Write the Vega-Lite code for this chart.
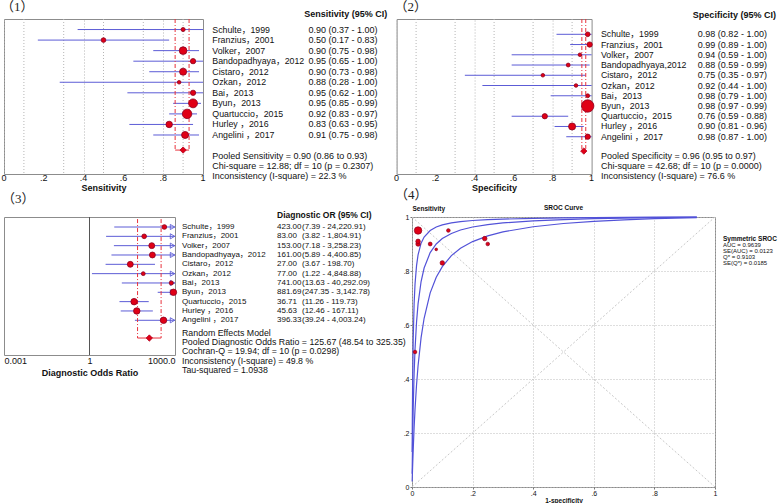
{
  "$schema": "https://vega.github.io/schema/vega-lite/v6.json",
  "padding": 0,
  "background": "white",
  "bounds": "flush",
  "spacing": 198,
  "config": {
    "font": "Liberation Sans",
    "view": {"stroke": "#8c8c8c", "strokeWidth": 1},
    "text": {"font": "Liberation Sans, Noto Sans CJK SC", "fontSize": 9, "color": "#111"},
    "title": {"font": "Liberation Serif, Noto Sans CJK SC", "fontSize": 13, "fontWeight": "normal", "anchor": "start", "frame": "group", "color": "#222"},
    "axis": {"labelColor": "#111", "titleColor": "#111", "labelFont": "Liberation Sans", "titleFont": "Liberation Sans"}
  },
  "datasets": {
    "d1": [
      {"i": 1, "name": "Schulte，1999", "est": 0.90, "lo": 0.37, "hi": 1.00, "w": 17, "ci": "0.90 (0.37 - 1.00)"},
      {"i": 2, "name": "Franzius，2001", "est": 0.50, "lo": 0.17, "hi": 0.83, "w": 22, "ci": "0.50 (0.17 - 0.83)"},
      {"i": 3, "name": "Volker，2007", "est": 0.90, "lo": 0.75, "hi": 0.98, "w": 59, "ci": "0.90 (0.75 - 0.98)"},
      {"i": 4, "name": "Bandopadhyaya，2012", "est": 0.95, "lo": 0.65, "hi": 1.00, "w": 28, "ci": "0.95 (0.65 - 1.00)"},
      {"i": 5, "name": "Cistaro，2012", "est": 0.90, "lo": 0.73, "hi": 0.98, "w": 50, "ci": "0.90 (0.73 - 0.98)"},
      {"i": 6, "name": "Ozkan，2012", "est": 0.88, "lo": 0.28, "hi": 1.00, "w": 13, "ci": "0.88 (0.28 - 1.00)"},
      {"i": 7, "name": "Bai，2013", "est": 0.95, "lo": 0.62, "hi": 1.00, "w": 28, "ci": "0.95 (0.62 - 1.00)"},
      {"i": 8, "name": "Byun，2013", "est": 0.95, "lo": 0.85, "hi": 0.99, "w": 79, "ci": "0.95 (0.85 - 0.99)"},
      {"i": 9, "name": "Quartuccio，2015", "est": 0.92, "lo": 0.83, "hi": 0.97, "w": 90, "ci": "0.92 (0.83 - 0.97)"},
      {"i": 10, "name": "Hurley ，2016", "est": 0.83, "lo": 0.63, "hi": 0.95, "w": 42, "ci": "0.83 (0.63 - 0.95)"},
      {"i": 11, "name": "Angelini ，2017", "est": 0.91, "lo": 0.75, "hi": 0.98, "w": 50, "ci": "0.91 (0.75 - 0.98)"}
    ],
    "d2": [
      {"i": 1, "name": "Schulte，1999", "est": 0.98, "lo": 0.82, "hi": 1.00, "w": 22, "ci": "0.98 (0.82 - 1.00)"},
      {"i": 2, "name": "Franzius，2001", "est": 0.99, "lo": 0.89, "hi": 1.00, "w": 28, "ci": "0.99 (0.89 - 1.00)"},
      {"i": 3, "name": "Volker，2007", "est": 0.94, "lo": 0.59, "hi": 1.00, "w": 13, "ci": "0.94 (0.59 - 1.00)"},
      {"i": 4, "name": "Bandopadhyaya,2012", "est": 0.88, "lo": 0.59, "hi": 0.99, "w": 15, "ci": "0.88 (0.59 - 0.99)"},
      {"i": 5, "name": "Cistaro，2012", "est": 0.75, "lo": 0.35, "hi": 0.97, "w": 13, "ci": "0.75 (0.35 - 0.97)"},
      {"i": 6, "name": "Ozkan，2012", "est": 0.92, "lo": 0.44, "hi": 1.00, "w": 13, "ci": "0.92 (0.44 - 1.00)"},
      {"i": 7, "name": "Bai，2013", "est": 0.98, "lo": 0.79, "hi": 1.00, "w": 15, "ci": "0.98 (0.79 - 1.00)"},
      {"i": 8, "name": "Byun，2013", "est": 0.98, "lo": 0.97, "hi": 0.99, "w": 154, "ci": "0.98 (0.97 - 0.99)"},
      {"i": 9, "name": "Quartuccio，2015", "est": 0.76, "lo": 0.59, "hi": 0.88, "w": 28, "ci": "0.76 (0.59 - 0.88)"},
      {"i": 10, "name": "Hurley ，2016", "est": 0.90, "lo": 0.81, "hi": 0.96, "w": 50, "ci": "0.90 (0.81 - 0.96)"},
      {"i": 11, "name": "Angelini ，2017", "est": 0.98, "lo": 0.87, "hi": 1.00, "w": 28, "ci": "0.98 (0.87 - 1.00)"}
    ],
    "d3": [
      {"i": 1, "name": "Schulte，1999", "est": 423.00, "lo": 7.39, "hi": 24220.91, "w": 22, "ort": "423.00", "ci": "(7.39 - 24,220.91)"},
      {"i": 2, "name": "Franzius，2001", "est": 83.00, "lo": 3.82, "hi": 1804.91, "w": 22, "ort": "83.00", "ci": "(3.82 - 1,804.91)"},
      {"i": 3, "name": "Volker，2007", "est": 153.00, "lo": 7.18, "hi": 3258.23, "w": 35, "ort": "153.00", "ci": "(7.18 - 3,258.23)"},
      {"i": 4, "name": "Bandopadhyaya，2012", "est": 161.00, "lo": 5.89, "hi": 4400.85, "w": 35, "ort": "161.00", "ci": "(5.89 - 4,400.85)"},
      {"i": 5, "name": "Cistaro，2012", "est": 27.00, "lo": 3.67, "hi": 198.70, "w": 35, "ort": "27.00", "ci": "(3.67 - 198.70)"},
      {"i": 6, "name": "Ozkan，2012", "est": 77.00, "lo": 1.22, "hi": 4848.88, "w": 15, "ort": "77.00", "ci": "(1.22 - 4,848.88)"},
      {"i": 7, "name": "Bai，2013", "est": 741.00, "lo": 13.63, "hi": 40292.09, "w": 17, "ort": "741.00", "ci": "(13.63 - 40,292.09)"},
      {"i": 8, "name": "Byun，2013", "est": 881.69, "lo": 247.35, "hi": 3142.78, "w": 42, "ort": "881.69", "ci": "(247.35 - 3,142.78)"},
      {"i": 9, "name": "Quartuccio，2015", "est": 36.71, "lo": 11.26, "hi": 119.73, "w": 42, "ort": "36.71", "ci": "(11.26 - 119.73)"},
      {"i": 10, "name": "Hurley ，2016", "est": 45.63, "lo": 12.46, "hi": 167.11, "w": 42, "ort": "45.63", "ci": "(12.46 - 167.11)"},
      {"i": 11, "name": "Angelini ，2017", "est": 396.33, "lo": 39.24, "hi": 4003.24, "w": 42, "ort": "396.33", "ci": "(39.24 - 4,003.24)"}
    ],
    "d4": [
      {"name": "Schulte", "fpr": 0.02, "sens": 0.90, "w": 20},
      {"name": "Franzius", "fpr": 0.01, "sens": 0.50, "w": 13},
      {"name": "Volker", "fpr": 0.06, "sens": 0.90, "w": 15},
      {"name": "Bandopadhyaya", "fpr": 0.12, "sens": 0.95, "w": 13},
      {"name": "Cistaro", "fpr": 0.25, "sens": 0.90, "w": 13},
      {"name": "Ozkan", "fpr": 0.08, "sens": 0.88, "w": 7},
      {"name": "Bai", "fpr": 0.02, "sens": 0.95, "w": 13},
      {"name": "Byun", "fpr": 0.02, "sens": 0.95, "w": 56},
      {"name": "Quartuccio", "fpr": 0.24, "sens": 0.92, "w": 20},
      {"name": "Hurley", "fpr": 0.10, "sens": 0.83, "w": 20},
      {"name": "Angelini", "fpr": 0.02, "sens": 0.91, "w": 20}
    ],
    "pool1": [{"est": 0.90, "lo": 0.86, "hi": 0.93}],
    "pool2": [{"est": 0.96, "lo": 0.95, "hi": 0.97}],
    "pool3": [{"est": 125.67, "lo": 48.54, "hi": 325.35}],
    "oddgrid": [{"g": 0.1}, {"g": 0.3}, {"g": 0.5}, {"g": 0.7}, {"g": 0.9}],
    "xlab": [{"v": 0, "t": "0"}, {"v": 0.2, "t": ".2"}, {"v": 0.4, "t": ".4"}, {"v": 0.6, "t": ".6"}, {"v": 0.8, "t": ".8"}, {"v": 1, "t": "1"}],
    "diag": [
      {"d": "a", "x": 0, "y": 0}, {"d": "a", "x": 1, "y": 1},
      {"d": "b", "x": 0, "y": 1}, {"d": "b", "x": 1, "y": 0}
    ],
    "curves": [
      {"c": "upper", "x": 0.0005, "y": 0.130}, {"c": "upper", "x": 0.001, "y": 0.231}, {"c": "upper", "x": 0.002, "y": 0.376}, {"c": "upper", "x": 0.004, "y": 0.546}, {"c": "upper", "x": 0.007, "y": 0.679}, {"c": "upper", "x": 0.01, "y": 0.752}, {"c": "upper", "x": 0.015, "y": 0.820}, {"c": "upper", "x": 0.02, "y": 0.860}, {"c": "upper", "x": 0.03, "y": 0.903}, {"c": "upper", "x": 0.04, "y": 0.926}, {"c": "upper", "x": 0.06, "y": 0.950}, {"c": "upper", "x": 0.08, "y": 0.963}, {"c": "upper", "x": 0.1, "y": 0.971}, {"c": "upper", "x": 0.13, "y": 0.978}, {"c": "upper", "x": 0.16, "y": 0.983}, {"c": "upper", "x": 0.2, "y": 0.987}, {"c": "upper", "x": 0.25, "y": 0.990}, {"c": "upper", "x": 0.3, "y": 0.992}, {"c": "upper", "x": 0.4, "y": 0.995}, {"c": "upper", "x": 0.5, "y": 0.997}, {"c": "upper", "x": 0.6, "y": 0.998}, {"c": "upper", "x": 0.7, "y": 0.9986}, {"c": "upper", "x": 0.8, "y": 0.9992}, {"c": "upper", "x": 0.94, "y": 0.9998},
      {"c": "mid", "x": 0.0005, "y": 0.049}, {"c": "mid", "x": 0.001, "y": 0.094}, {"c": "mid", "x": 0.002, "y": 0.171}, {"c": "mid", "x": 0.004, "y": 0.293}, {"c": "mid", "x": 0.007, "y": 0.421}, {"c": "mid", "x": 0.01, "y": 0.510}, {"c": "mid", "x": 0.015, "y": 0.611}, {"c": "mid", "x": 0.02, "y": 0.678}, {"c": "mid", "x": 0.03, "y": 0.761}, {"c": "mid", "x": 0.04, "y": 0.811}, {"c": "mid", "x": 0.06, "y": 0.868}, {"c": "mid", "x": 0.08, "y": 0.900}, {"c": "mid", "x": 0.1, "y": 0.920}, {"c": "mid", "x": 0.13, "y": 0.939}, {"c": "mid", "x": 0.16, "y": 0.952}, {"c": "mid", "x": 0.2, "y": 0.963}, {"c": "mid", "x": 0.25, "y": 0.972}, {"c": "mid", "x": 0.3, "y": 0.978}, {"c": "mid", "x": 0.4, "y": 0.986}, {"c": "mid", "x": 0.5, "y": 0.990}, {"c": "mid", "x": 0.6, "y": 0.994}, {"c": "mid", "x": 0.7, "y": 0.996}, {"c": "mid", "x": 0.8, "y": 0.998}, {"c": "mid", "x": 0.94, "y": 0.9994},
      {"c": "lower", "x": 0.0005, "y": 0.020}, {"c": "lower", "x": 0.001, "y": 0.039}, {"c": "lower", "x": 0.002, "y": 0.074}, {"c": "lower", "x": 0.004, "y": 0.138}, {"c": "lower", "x": 0.007, "y": 0.220}, {"c": "lower", "x": 0.01, "y": 0.288}, {"c": "lower", "x": 0.015, "y": 0.379}, {"c": "lower", "x": 0.02, "y": 0.449}, {"c": "lower", "x": 0.03, "y": 0.553}, {"c": "lower", "x": 0.04, "y": 0.625}, {"c": "lower", "x": 0.06, "y": 0.719}, {"c": "lower", "x": 0.08, "y": 0.777}, {"c": "lower", "x": 0.1, "y": 0.816}, {"c": "lower", "x": 0.13, "y": 0.857}, {"c": "lower", "x": 0.16, "y": 0.884}, {"c": "lower", "x": 0.2, "y": 0.909}, {"c": "lower", "x": 0.25, "y": 0.930}, {"c": "lower", "x": 0.3, "y": 0.945}, {"c": "lower", "x": 0.4, "y": 0.964}, {"c": "lower", "x": 0.5, "y": 0.976}, {"c": "lower", "x": 0.6, "y": 0.984}, {"c": "lower", "x": 0.7, "y": 0.989}, {"c": "lower", "x": 0.8, "y": 0.994}, {"c": "lower", "x": 0.94, "y": 0.998}
    ]
  },
  "vconcat": [
    {
      "bounds": "flush",
      "spacing": 9.3,
      "hconcat": [
        {
          "width": 199, "height": 155,
          "title": {"text": "（1）", "dx": -3, "offset": 5},
          "layer": [
            {"data": {"name": "oddgrid"}, "mark": {"type": "rule", "color": "#b5b5b5", "strokeDash": [1, 2]},
             "encoding": {
               "x": {"field": "g", "type": "quantitative", "scale": {"domain": [0, 1], "nice": false, "zero": false},
                     "axis": {"values": [0, 0.2, 0.4, 0.6, 0.8, 1], "labels": false, "grid": true, "gridDash": [1, 2], "gridColor": "#b5b5b5", "ticks": false, "domain": false, "title": "Sensitivity", "titleFontSize": 9, "titleFontWeight": "bold", "titlePadding": 9}}
             }},
            {"data": {"name": "d1"}, "mark": {"type": "rule", "color": "#5c5cd6", "strokeWidth": 1},
             "encoding": {
               "x": {"field": "lo", "type": "quantitative"},
               "x2": {"field": "hi"},
               "y": {"field": "i", "type": "quantitative", "scale": {"domain": [0, 14.7], "reverse": true, "nice": false, "zero": false}, "axis": null}
             }},
            {"data": {"name": "pool1"}, "mark": {"type": "rule", "color": "#e8323c", "strokeDash": [4, 2, 1, 2]},
             "encoding": {"x": {"field": "lo", "type": "quantitative"}, "y": {"datum": 0, "type": "quantitative"}, "y2": {"datum": 12.43}}},
            {"data": {"name": "pool1"}, "mark": {"type": "rule", "color": "#e8323c", "strokeDash": [4, 2, 1, 2]},
             "encoding": {"x": {"field": "hi", "type": "quantitative"}, "y": {"datum": 0, "type": "quantitative"}, "y2": {"datum": 12.43}}},
            {"data": {"name": "pool1"}, "mark": {"type": "rule", "color": "#e8323c"},
             "encoding": {"x": {"field": "lo", "type": "quantitative"}, "x2": {"field": "hi"}, "y": {"datum": 12.43, "type": "quantitative"}}},
            {"data": {"name": "d1"}, "mark": {"type": "point", "shape": "circle", "filled": true, "fill": "#e00016", "stroke": "#8b0020", "strokeWidth": 0.8, "opacity": 1},
             "encoding": {"x": {"field": "est", "type": "quantitative"}, "y": {"field": "i", "type": "quantitative"},
                          "size": {"field": "w", "type": "quantitative", "scale": {"domain": [0, 100], "range": [0, 100]}, "legend": null}}},
            {"data": {"name": "pool1"}, "mark": {"type": "point", "shape": "diamond", "filled": true, "fill": "#e00016", "stroke": "#b00020", "strokeWidth": 0.8, "size": 40, "opacity": 1},
             "encoding": {"x": {"field": "est", "type": "quantitative"}, "y": {"datum": 12.43, "type": "quantitative"}}},
            {"data": {"name": "xlab"}, "mark": {"type": "text", "baseline": "top", "align": "center", "fontSize": 9},
             "encoding": {"x": {"field": "v", "type": "quantitative"}, "y": {"datum": 14.7, "type": "quantitative"}, "text": {"field": "t"}}}
          ]
        },
        {
          "width": 175, "height": 155, "view": {"stroke": null},
          "layer": [
            {"data": {"name": "d1"}, "mark": {"type": "text", "align": "left", "baseline": "middle", "fontSize": 8.8},
             "encoding": {"x": {"datum": 0, "type": "quantitative", "scale": {"domain": [0, 1], "nice": false, "zero": false}, "axis": null},
                          "y": {"field": "i", "type": "quantitative", "scale": {"domain": [0, 14.7], "reverse": true, "nice": false, "zero": false}, "axis": null},
                          "text": {"field": "name"}}},
            {"data": {"name": "d1"}, "mark": {"type": "text", "align": "left", "baseline": "middle"},
             "encoding": {"x": {"datum": 0.549, "type": "quantitative"}, "y": {"field": "i", "type": "quantitative"}, "text": {"field": "ci"}}},
            {"data": {"values": [{"h": "Sensitivity (95% CI)"}]}, "mark": {"type": "text", "align": "right", "baseline": "middle", "fontWeight": "bold"},
             "encoding": {"x": {"datum": 1, "type": "quantitative"}, "y": {"datum": -0.43, "type": "quantitative"}, "text": {"field": "h"}}},
            {"data": {"values": [{"t": ["Pooled Sensitivity = 0.90 (0.86 to 0.93)", "Chi-square = 12.88; df =  10 (p = 0.2307)", "Inconsistency (I-square) = 22.3 %"]}]},
             "mark": {"type": "text", "align": "left", "baseline": "top", "lineHeight": 10},
             "encoding": {"x": {"datum": 0, "type": "quantitative"}, "y": {"datum": 12.58, "type": "quantitative"}, "text": {"field": "t"}}}
          ]
        },
        {
          "width": 195, "height": 155,
          "title": {"text": "（2）", "dx": -2, "offset": 5},
          "layer": [
            {"data": {"name": "oddgrid"}, "mark": {"type": "rule", "color": "#b5b5b5", "strokeDash": [1, 2]},
             "encoding": {
               "x": {"field": "g", "type": "quantitative", "scale": {"domain": [0, 1], "nice": false, "zero": false},
                     "axis": {"values": [0, 0.2, 0.4, 0.6, 0.8, 1], "labels": false, "grid": true, "gridDash": [1, 2], "gridColor": "#b5b5b5", "ticks": false, "domain": false, "title": "Specificity", "titleFontSize": 9, "titleFontWeight": "bold", "titlePadding": 9}}
             }},
            {"data": {"name": "d2"}, "mark": {"type": "rule", "color": "#5c5cd6", "strokeWidth": 1},
             "encoding": {
               "x": {"field": "lo", "type": "quantitative"},
               "x2": {"field": "hi"},
               "y": {"field": "i", "type": "quantitative", "scale": {"domain": [-0.494, 14.64], "reverse": true, "nice": false, "zero": false}, "axis": null}
             }},
            {"data": {"name": "pool2"}, "mark": {"type": "rule", "color": "#e8323c", "strokeDash": [4, 2, 1, 2]},
             "encoding": {"x": {"field": "lo", "type": "quantitative"}, "y": {"datum": -0.494, "type": "quantitative"}, "y2": {"datum": 12.4}}},
            {"data": {"name": "pool2"}, "mark": {"type": "rule", "color": "#e8323c", "strokeDash": [4, 2, 1, 2]},
             "encoding": {"x": {"field": "hi", "type": "quantitative"}, "y": {"datum": -0.494, "type": "quantitative"}, "y2": {"datum": 12.4}}},
            {"data": {"name": "pool2"}, "mark": {"type": "rule", "color": "#e8323c"},
             "encoding": {"x": {"field": "lo", "type": "quantitative"}, "x2": {"field": "hi"}, "y": {"datum": 12.4, "type": "quantitative"}}},
            {"data": {"name": "d2"}, "mark": {"type": "point", "shape": "circle", "filled": true, "fill": "#e00016", "stroke": "#8b0020", "strokeWidth": 0.8, "opacity": 1},
             "encoding": {"x": {"field": "est", "type": "quantitative"}, "y": {"field": "i", "type": "quantitative"},
                          "size": {"field": "w", "type": "quantitative", "scale": {"domain": [0, 100], "range": [0, 100]}, "legend": null}}},
            {"data": {"name": "pool2"}, "mark": {"type": "point", "shape": "diamond", "filled": true, "fill": "#e00016", "stroke": "#b00020", "strokeWidth": 0.8, "size": 40, "opacity": 1},
             "encoding": {"x": {"field": "est", "type": "quantitative"}, "y": {"datum": 12.4, "type": "quantitative"}}},
            {"data": {"name": "xlab"}, "mark": {"type": "text", "baseline": "top", "align": "center", "fontSize": 9},
             "encoding": {"x": {"field": "v", "type": "quantitative"}, "y": {"datum": 14.64, "type": "quantitative"}, "text": {"field": "t"}}}
          ]
        },
        {
          "width": 175, "height": 155, "view": {"stroke": null},
          "layer": [
            {"data": {"name": "d2"}, "mark": {"type": "text", "align": "left", "baseline": "middle", "fontSize": 8.8},
             "encoding": {"x": {"datum": 0, "type": "quantitative", "scale": {"domain": [0, 1], "nice": false, "zero": false}, "axis": null},
                          "y": {"field": "i", "type": "quantitative", "scale": {"domain": [-0.494, 14.64], "reverse": true, "nice": false, "zero": false}, "axis": null},
                          "text": {"field": "name"}}},
            {"data": {"name": "d2"}, "mark": {"type": "text", "align": "left", "baseline": "middle"},
             "encoding": {"x": {"datum": 0.554, "type": "quantitative"}, "y": {"field": "i", "type": "quantitative"}, "text": {"field": "ci"}}},
            {"data": {"values": [{"h": "Specificity (95% CI)"}]}, "mark": {"type": "text", "align": "right", "baseline": "middle", "fontWeight": "bold"},
             "encoding": {"x": {"datum": 1, "type": "quantitative"}, "y": {"datum": -0.93, "type": "quantitative"}, "text": {"field": "h"}}},
            {"data": {"values": [{"t": ["Pooled Specificity = 0.96 (0.95 to 0.97)", "Chi-square = 42.68; df =  10 (p = 0.0000)", "Inconsistency (I-square) = 76.6 %"]}]},
             "mark": {"type": "text", "align": "left", "baseline": "top", "lineHeight": 10},
             "encoding": {"x": {"datum": 0, "type": "quantitative"}, "y": {"datum": 12.45, "type": "quantitative"}, "text": {"field": "t"}}}
          ]
        }
      ]
    },
    {
      "bounds": "flush",
      "spacing": 7,
      "hconcat": [
        {
          "width": 171, "height": 138,
          "title": {"text": "（3）", "dx": -2, "offset": 11},
          "layer": [
            {"data": {"name": "d3"}, "mark": {"type": "rule", "color": "#5c5cd6", "strokeWidth": 1, "clip": true},
             "encoding": {
               "x": {"field": "lo", "type": "quantitative", "scale": {"type": "log", "domain": [0.001, 1000], "nice": false},
                     "axis": {"values": [0.001, 1, 1000], "labelExpr": "datum.value >= 999 ? '1000.0' : datum.value >= 0.5 ? '1' : '0.001'", "grid": false, "ticks": false, "domain": false, "labelFontSize": 9, "labelFlush": true, "labelOverlap": false, "labelPadding": 1, "title": "Diagnostic Odds Ratio", "titleFontSize": 9, "titleFontWeight": "bold", "titlePadding": 3}},
               "x2": {"field": "hi"},
               "y": {"field": "i", "type": "quantitative", "scale": {"domain": [-0.072, 14.72], "reverse": true, "nice": false, "zero": false}, "axis": null}
             }},
            {"data": {"values": [{"v": 1}]}, "mark": {"type": "rule", "color": "#555555", "strokeWidth": 1},
             "encoding": {"x": {"field": "v", "type": "quantitative"}}},
            {"data": {"name": "d3"}, "transform": [{"filter": "datum.hi > 1000"}],
             "mark": {"type": "point", "shape": "triangle-right", "filled": false, "stroke": "#5c5cd6", "strokeWidth": 0.9, "size": 26, "xOffset": -2.5, "opacity": 1},
             "encoding": {"x": {"datum": 1000, "type": "quantitative"}, "y": {"field": "i", "type": "quantitative"}}},
            {"data": {"name": "pool3"}, "mark": {"type": "rule", "color": "#e8323c", "strokeDash": [4, 2, 1, 2]},
             "encoding": {"x": {"field": "lo", "type": "quantitative"}, "y": {"datum": 0.15, "type": "quantitative"}, "y2": {"datum": 12.9}}},
            {"data": {"name": "pool3"}, "mark": {"type": "rule", "color": "#e8323c", "strokeDash": [4, 2, 1, 2]},
             "encoding": {"x": {"field": "hi", "type": "quantitative"}, "y": {"datum": 0.15, "type": "quantitative"}, "y2": {"datum": 12.9}}},
            {"data": {"name": "pool3"}, "mark": {"type": "rule", "color": "#e8323c"},
             "encoding": {"x": {"field": "lo", "type": "quantitative"}, "x2": {"field": "hi"}, "y": {"datum": 12.9, "type": "quantitative"}}},
            {"data": {"name": "d3"}, "mark": {"type": "point", "shape": "circle", "filled": true, "fill": "#e00016", "stroke": "#8b0020", "strokeWidth": 0.8, "opacity": 1},
             "encoding": {"x": {"field": "est", "type": "quantitative"}, "y": {"field": "i", "type": "quantitative"},
                          "size": {"field": "w", "type": "quantitative", "scale": {"domain": [0, 100], "range": [0, 100]}, "legend": null}}},
            {"data": {"name": "pool3"}, "mark": {"type": "point", "shape": "diamond", "filled": true, "fill": "#e00016", "stroke": "#b00020", "strokeWidth": 0.8, "size": 40, "opacity": 1},
             "encoding": {"x": {"field": "est", "type": "quantitative"}, "y": {"datum": 12.9, "type": "quantitative"}}}
          ]
        },
        {
          "width": 223, "height": 138, "view": {"stroke": null},
          "layer": [
            {"data": {"name": "d3"}, "mark": {"type": "text", "align": "left", "baseline": "middle", "fontSize": 8},
             "encoding": {"x": {"datum": 0, "type": "quantitative", "scale": {"domain": [0, 1], "nice": false, "zero": false}, "axis": null},
                          "y": {"field": "i", "type": "quantitative", "scale": {"domain": [-0.072, 14.72], "reverse": true, "nice": false, "zero": false}, "axis": null},
                          "text": {"field": "name"}}},
            {"data": {"name": "d3"}, "mark": {"type": "text", "align": "left", "baseline": "middle", "fontSize": 8},
             "encoding": {"x": {"datum": 0.426, "type": "quantitative"}, "y": {"field": "i", "type": "quantitative"}, "text": {"field": "ort"}}},
            {"data": {"name": "d3"}, "mark": {"type": "text", "align": "left", "baseline": "middle", "fontSize": 8},
             "encoding": {"x": {"datum": 0.538, "type": "quantitative"}, "y": {"field": "i", "type": "quantitative"}, "text": {"field": "ci"}}},
            {"data": {"values": [{"h": "Diagnostic OR (95% CI)"}]}, "mark": {"type": "text", "align": "left", "baseline": "middle", "fontWeight": "bold", "fontSize": 8.5},
             "encoding": {"x": {"datum": 0.426, "type": "quantitative"}, "y": {"datum": -0.32, "type": "quantitative"}, "text": {"field": "h"}}},
            {"data": {"values": [{"t": ["Random Effects Model", "Pooled Diagnostic Odds Ratio = 125.67 (48.54 to 325.35)", "Cochran-Q = 19.94; df =  10 (p = 0.0298)", "Inconsistency (I-square) = 49.8 %", "Tau-squared = 1.0938"]}]},
             "mark": {"type": "text", "align": "left", "baseline": "top", "lineHeight": 9.33, "fontSize": 8.8},
             "encoding": {"x": {"datum": 0, "type": "quantitative"}, "y": {"datum": 11.9, "type": "quantitative"}, "text": {"field": "t"}}}
          ]
        },
        {
          "width": 303, "height": 270,
          "title": {"text": "（4）", "dx": -17, "offset": 3},
          "layer": [
            {"data": {"name": "diag"}, "mark": {"type": "line", "color": "#c8c8c8", "strokeDash": [2, 2], "strokeWidth": 1},
             "encoding": {
               "x": {"field": "x", "type": "quantitative", "scale": {"domain": [0, 1], "nice": false, "zero": false},
                     "axis": {"values": [0, 0.1, 0.2, 0.3, 0.4, 0.5, 0.6, 0.7, 0.8, 0.9, 1], "labelExpr": "datum.value == 0 ? '0' : datum.value == 1 ? '1' : (round(datum.value * 10) % 2 == 1 ? '' : replace(format(datum.value, '.1f'), '0.', '.'))", "grid": true, "gridDash": [1, 2], "gridColor": "#bdbdbd", "ticks": true, "tickSize": 2, "tickColor": "#777777", "domain": false, "labelFontSize": 7, "labelFlush": false, "labelOverlap": false, "labelPadding": 0, "title": "1-specificity", "titleFontSize": 6.5, "titleFontWeight": "bold", "titlePadding": 1}},
               "y": {"field": "y", "type": "quantitative", "scale": {"domain": [0, 1], "nice": false, "zero": false},
                     "axis": {"values": [0, 0.1, 0.2, 0.3, 0.4, 0.5, 0.6, 0.7, 0.8, 0.9, 1], "labelExpr": "datum.value == 0 ? '0' : datum.value == 1 ? '1' : replace(format(datum.value, '.1f'), '0.', '.')", "grid": true, "gridDash": [1, 2], "gridColor": "#bdbdbd", "ticks": true, "tickSize": 2, "tickColor": "#777777", "domain": false, "labelFontSize": 7, "labelOverlap": false, "labelFlush": false, "labelPadding": 1, "title": "Sensitivity", "titleFontSize": 6.5, "titleFontWeight": "bold", "titleAngle": 0, "titleAlign": "left", "titleBaseline": "middle", "titleX": 0, "titleY": -9}},
               "detail": {"field": "d"}
             }},
            {"data": {"name": "curves"}, "mark": {"type": "line", "color": "#5252d8", "strokeWidth": 1.2},
             "encoding": {"x": {"field": "x", "type": "quantitative"}, "y": {"field": "y", "type": "quantitative"}, "detail": {"field": "c"}}},
            {"data": {"name": "d4"}, "mark": {"type": "point", "shape": "circle", "filled": true, "fill": "#e00016", "stroke": "#8b0020", "strokeWidth": 0.7, "opacity": 1},
             "encoding": {"x": {"field": "fpr", "type": "quantitative"}, "y": {"field": "sens", "type": "quantitative"},
                          "size": {"field": "w", "type": "quantitative", "scale": {"domain": [0, 100], "range": [0, 100]}, "legend": null}}},
            {"data": {"values": [{"t": "SROC Curve"}]}, "mark": {"type": "text", "fontSize": 6.5, "fontWeight": "bold", "baseline": "middle", "dy": -9},
             "encoding": {"x": {"datum": 0.5, "type": "quantitative"}, "y": {"datum": 1, "type": "quantitative"}, "text": {"field": "t"}}},
            {"data": {"values": [{"t": "Symmetric SROC"}]}, "mark": {"type": "text", "fontSize": 6.5, "fontWeight": "bold", "align": "left", "baseline": "middle", "dx": 8},
             "encoding": {"x": {"datum": 1, "type": "quantitative"}, "y": {"datum": 0.919, "type": "quantitative"}, "text": {"field": "t"}}},
            {"data": {"values": [{"t": ["AUC = 0.9639", "SE(AUC) = 0.0123", "Q* = 0.9103", "SE(Q*) = 0.0185"]}]}, "mark": {"type": "text", "fontSize": 6, "align": "left", "baseline": "top", "lineHeight": 6, "dx": 8},
             "encoding": {"x": {"datum": 1, "type": "quantitative"}, "y": {"datum": 0.907, "type": "quantitative"}, "text": {"field": "t"}}}
          ]
        }
      ]
    }
  ]
}
